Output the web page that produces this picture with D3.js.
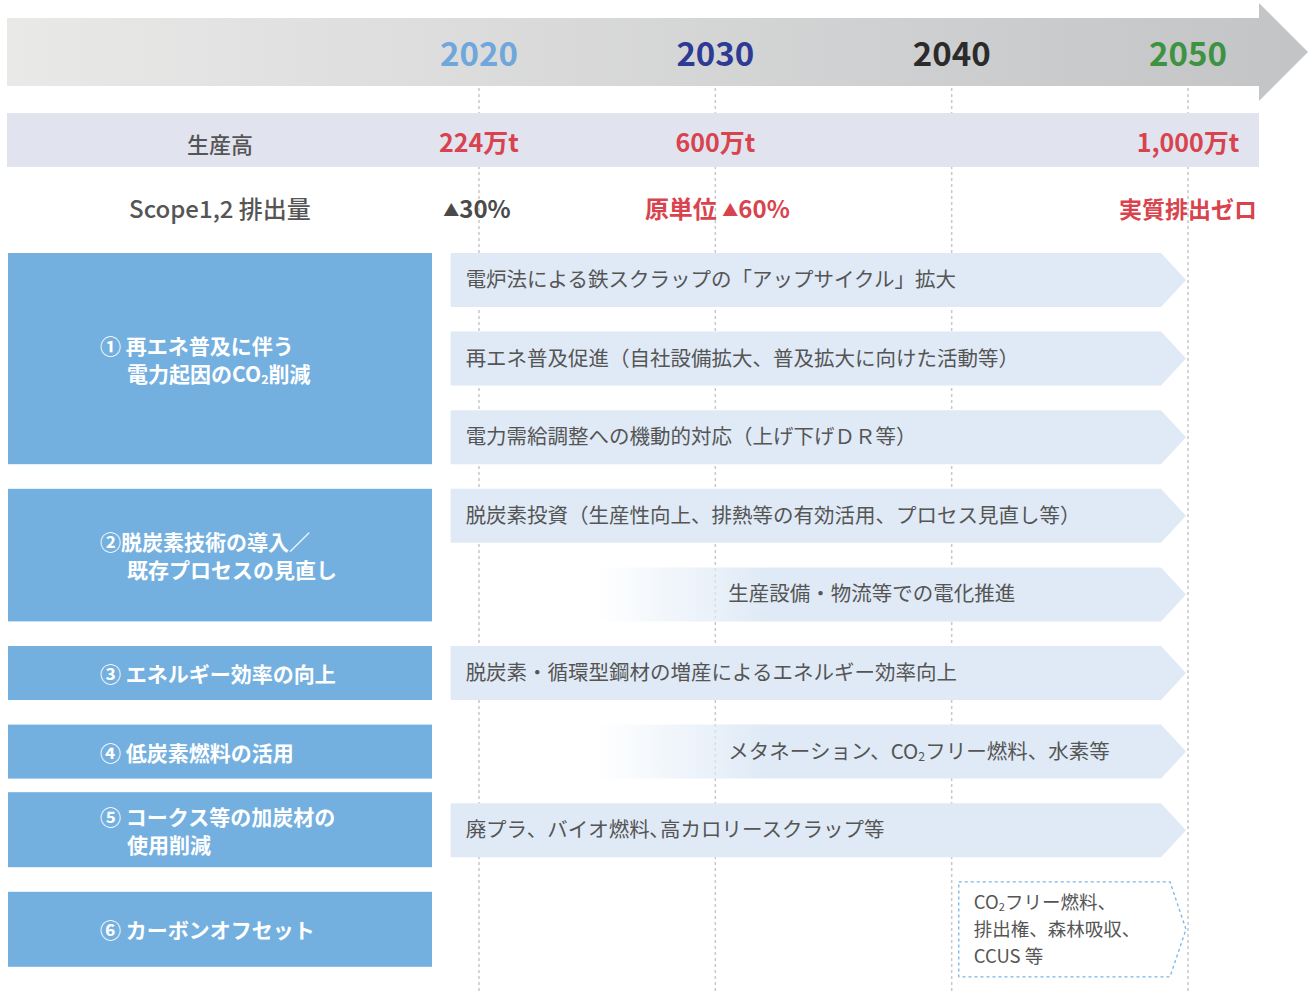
<!DOCTYPE html>
<html>
<head>
<meta charset="utf-8">
<script src="https://cdn.jsdelivr.net/npm/d3@7"></script>
<style>
  html, body { margin: 0; padding: 0; background: #ffffff; }
  svg { display: block; font-family: "Noto Sans CJK JP", "Noto Sans", sans-serif; }
</style>
</head>
<body>
<svg id="chart" width="1314" height="992"></svg>
<script>
// ---------- DATA ----------
const years = [2020, 2030, 2040, 2050];
const yearColors = ["#6fa7dc", "#2e3b94", "#2b2b2b", "#3e9343"];

const productionLabel = "生産高";
const productionValues = ["224万t", "600万t", "", "1,000万t"];

const scopeLabel = "Scope1,2 排出量";
const scopePrefix = ["", "原単位 ", "", "実質排出ゼロ"];
const scopeMark = ["▲", "▲", "", ""];
const scopeValue = ["30%", "60%", "", ""];
const scopeRed = [false, true, false, true];

const categories = [
  ["① 再エネ普及に伴う", "電力起因のCO₂削減"],
  ["②脱炭素技術の導入／", "既存プロセスの見直し"],
  ["③ エネルギー効率の向上"],
  ["④ 低炭素燃料の活用"],
  ["⑤ コークス等の加炭材の", "使用削減"],
  ["⑥ カーボンオフセット"]
];

const measureCategory = [0, 0, 0, 1, 1, 2, 3, 4, 5];
const measureText = [
  ["電炉法による鉄スクラップの「アップサイクル」拡大"],
  ["再エネ普及促進（自社設備拡大、普及拡大に向けた活動等）"],
  ["電力需給調整への機動的対応（上げ下げＤＲ等）"],
  ["脱炭素投資（生産性向上、排熱等の有効活用、プロセス見直し等）"],
  ["生産設備・物流等での電化推進"],
  ["脱炭素・循環型鋼材の増産によるエネルギー効率向上"],
  ["メタネーション、CO₂フリー燃料、水素等"],
  ["廃プラ、バイオ燃料､高カロリースクラップ等"],
  ["CO₂フリー燃料、", "排出権、森林吸収、", "CCUS 等"]
];
const measureStart = [2018.8, 2018.8, 2018.8, 2018.8, 2025, 2018.8, 2025, 2018.8, 2040.3];
const measureEnd = [2050, 2050, 2050, 2050, 2050, 2050, 2050, 2050, 2050];
const measureStyle = ["solid", "solid", "solid", "solid", "fade", "solid", "fade", "solid", "dotted"];

// ---------- LAYOUT ----------
const svg = d3.select("#chart");
const x = d3.scaleLinear().domain([2020, 2050]).range([479, 1188]);
const row = d3.scaleLinear().domain([0, 9]).range([253, 253 + 78.6 * 9]);
const barH = 54;
const dottedH = 95;
const tip = 25;
const boxX0 = 8, boxX1 = 432;
const boxPadTop = [0, 0, 0, 0, -11, 10];
const boxPadBottom = [0, 0, 0, 0, 10, -10];

// write text, rendering "₂" as a small lowered digit
function richText(sel, str) {
  const parts = str.split("₂");
  parts.forEach((p, k) => {
    if (k > 0) {
      sel.append("tspan").attr("font-size", "0.6em").attr("dy", 2).text("2");
      sel.append("tspan").attr("dy", -2).text(p);
    } else {
      sel.append("tspan").text(p);
    }
  });
}

const defs = svg.append("defs");
const bandGrad = defs.append("linearGradient").attr("id", "bandGrad")
  .attr("gradientUnits", "userSpaceOnUse").attr("x1", 7).attr("x2", 1308).attr("y1", 0).attr("y2", 0);
bandGrad.append("stop").attr("offset", 0).attr("stop-color", "#e9e9e8");
bandGrad.append("stop").attr("offset", 1).attr("stop-color", "#c3c4c6");

const fadeGrad = defs.append("linearGradient").attr("id", "fadeGrad")
  .attr("gradientUnits", "userSpaceOnUse").attr("x1", x(2025)).attr("x2", x(2025) + 170).attr("y1", 0).attr("y2", 0);
fadeGrad.append("stop").attr("offset", 0).attr("stop-color", "#dfeaf6").attr("stop-opacity", 0);
fadeGrad.append("stop").attr("offset", 1).attr("stop-color", "#dfeaf6").attr("stop-opacity", 1);

// Timeline arrow band
svg.append("path")
  .attr("d", `M7,18 L1259,18 L1259,3 L1308,52 L1259,101 L1259,86 L7,86 Z`)
  .attr("fill", "url(#bandGrad)");

// Year dotted guides
svg.selectAll("line.guide").data(years).join("line")
  .attr("class", "guide")
  .attr("x1", d => x(d)).attr("x2", d => x(d))
  .attr("y1", 88).attr("y2", 992)
  .attr("stroke", "#c8c8c8").attr("stroke-width", 1.5).attr("stroke-dasharray", "3,3");

// Year labels
svg.selectAll("text.year").data(years).join("text")
  .attr("class", "year")
  .attr("x", d => x(d)).attr("y", 66)
  .attr("text-anchor", "middle")
  .attr("font-size", 33).attr("font-weight", 700)
  .attr("fill", (d, i) => yearColors[i])
  .text(d => d);

// Production band
svg.append("rect").attr("x", 7).attr("y", 113).attr("width", 1252).attr("height", 54).attr("fill", "#e1e3ef");
svg.append("text").attr("x", 220).attr("y", 153).attr("text-anchor", "middle")
  .attr("font-size", 22).attr("font-weight", 500).attr("fill", "#555").text(productionLabel);
svg.selectAll("text.prod").data(years).join("text")
  .attr("class", "prod")
  .attr("x", d => x(d)).attr("y", 152)
  .attr("text-anchor", "middle")
  .attr("font-size", 25).attr("font-weight", 700).attr("fill", "#d8434e")
  .text((d, i) => productionValues[i]);

// Scope row
svg.append("text").attr("x", 220).attr("y", 218).attr("text-anchor", "middle")
  .attr("font-size", 24).attr("font-weight", 500).attr("fill", "#555").text(scopeLabel);
const scopeG = svg.selectAll("text.scope").data(years).join("text")
  .attr("class", "scope")
  .attr("x", (d, i) => x(d) + (i === 1 ? 2 : 0) - (i === 0 ? 2 : 0)).attr("y", 218)
  .attr("text-anchor", "middle")
  .attr("font-size", (d, i) => i === 3 ? 23 : 24).attr("font-weight", 700)
  .attr("fill", (d, i) => scopeRed[i] ? "#d8434e" : "#4a4a4a");
scopeG.append("tspan").text((d, i) => scopePrefix[i]);
scopeG.append("tspan").attr("font-size", 16).attr("dy", -2).text((d, i) => scopeMark[i]);
scopeG.append("tspan").attr("dy", (d, i) => scopeMark[i] ? 2 : 0).text((d, i) => scopeValue[i]);

// Measures (right arrows)
const measures = measureText.map((t, i) => ({
  i, lines: t, cat: measureCategory[i], start: measureStart[i], end: measureEnd[i], style: measureStyle[i]
}));

function arrowPath(x0, x1, y0, h, t) {
  return `M${x0},${y0} L${x1 - t},${y0} L${x1},${y0 + h / 2} L${x1 - t},${y0 + h} L${x0},${y0 + h} Z`;
}

const mG = svg.selectAll("g.measure").data(measures).join("g").attr("class", "measure");
mG.append("path")
  .attr("d", d => d.style === "dotted"
    ? arrowPath(x(d.start), x(d.end) - 2, row(d.i), dottedH, 16)
    : arrowPath(x(d.start), x(d.end) - 2, row(d.i), barH, tip))
  .attr("fill", d => d.style === "fade" ? "url(#fadeGrad)" : d.style === "dotted" ? "#ffffff" : "#dfeaf6")
  .attr("stroke", d => d.style === "dotted" ? "#7ab3e3" : "none")
  .attr("stroke-width", 1.3)
  .attr("stroke-dasharray", d => d.style === "dotted" ? "3,3" : null)
  .attr("stroke-linejoin", "round");

mG.each(function(d) {
  const g = d3.select(this);
  const dotted = d.style === "dotted";
  const h = dotted ? dottedH : barH;
  const lh = 27;
  const cy = row(d.i) + h / 2;
  const tx = d.style === "fade" ? x(2030) + 13 : x(d.start) + 15;
  g.selectAll("text").data(d.lines).join("text")
    .attr("x", tx)
    .attr("y", (l, k) => cy + (k - (d.lines.length - 1) / 2) * lh + 7)
    .attr("font-size", dotted ? 18.5 : 20.5).attr("fill", "#555")
    .each(function(l) { richText(d3.select(this), l); });
});

// Category boxes (left)
const cats = categories.map((lines, c) => {
  const rows = measures.filter(m => m.cat === c);
  const last = rows[rows.length - 1];
  const lastH = last.style === "dotted" ? dottedH : barH;
  const top = row(rows[0].i) + boxPadTop[c];
  const bottom = row(last.i) + lastH + boxPadBottom[c];
  return { c, lines, top, bottom };
});

const cG = svg.selectAll("g.cat").data(cats).join("g").attr("class", "cat");
cG.append("rect")
  .attr("x", boxX0).attr("y", d => d.top)
  .attr("width", boxX1 - boxX0).attr("height", d => d.bottom - d.top)
  .attr("fill", "#74b0df");
cG.each(function(d) {
  const g = d3.select(this);
  const cy = (d.top + d.bottom) / 2 + 2;
  const lh = 28;
  g.selectAll("text").data(d.lines).join("text")
    .attr("x", (l, k) => k === 0 ? 100 : 127)
    .attr("y", (l, k) => cy + (k - (d.lines.length - 1) / 2) * lh + 7)
    .attr("font-size", 21).attr("font-weight", 700).attr("fill", "#ffffff")
    .each(function(l) { richText(d3.select(this), l); });
});
</script>
</body>
</html>
